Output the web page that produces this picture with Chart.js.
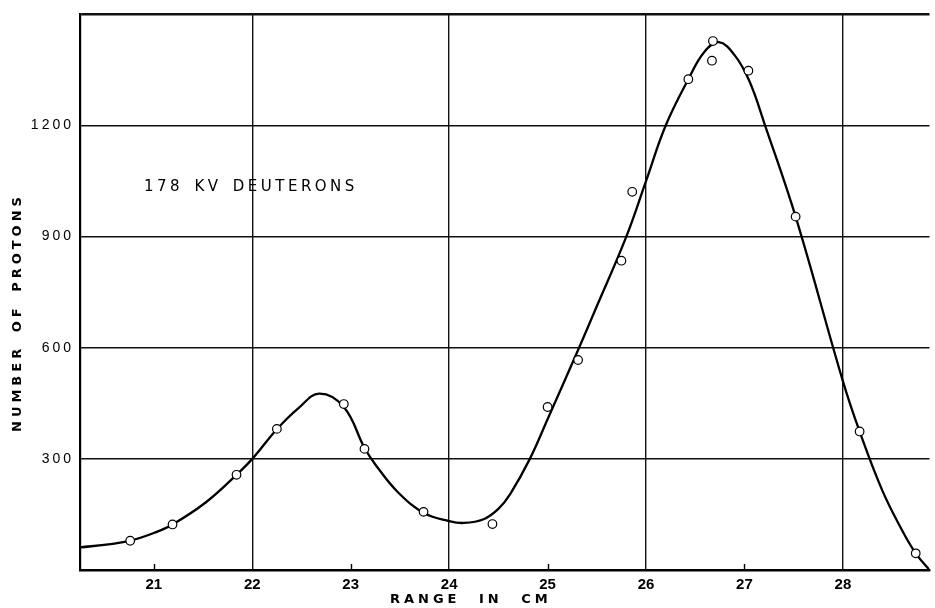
<!DOCTYPE html>
<html><head><meta charset="utf-8">
<script src="https://cdn.jsdelivr.net/npm/chart.js@4.4.1/dist/chart.umd.min.js"></script>
<style>html,body{margin:0;padding:0;background:#fff}#wrap{width:935px;height:608px;position:relative}canvas{display:block}</style>
</head><body><div id="wrap"><canvas id="c" width="935" height="608"></canvas></div>
<script>
// ---- data ----
const xTicks = [21, 22, 23, 24, 25, 26, 27, 28];
const yTicks = [0, 300, 600, 900, 1200, 1500];
const measuredRange   = [20.76, 21.19, 21.84, 22.25, 22.93, 23.14, 23.74, 24.44, 25.00, 25.31, 25.75, 25.86, 26.43, 26.67, 26.68, 27.04, 27.52, 28.17, 28.74];
const measuredProtons = [79, 123, 257, 381, 448, 327, 157, 124, 440, 567, 835, 1021, 1325, 1375, 1428, 1348, 954, 374, 45];
const curveRange   = [20.25, 20.56, 20.76, 21.00, 21.19, 21.53, 21.84, 22.00, 22.25, 22.47, 22.68, 22.93, 23.14, 23.25, 23.48, 23.75, 24.00, 24.15, 24.35, 24.50, 24.62, 24.82, 25.00, 25.32, 25.50, 25.80, 26.00, 26.20, 26.43, 26.59, 26.74, 26.90, 27.05, 27.21, 27.52, 28.00, 28.17, 28.40, 28.60, 28.74, 28.88];
const curveProtons = [61, 70, 79, 100, 123, 183, 257, 300, 380, 437, 476, 440, 330, 285, 210, 153, 132, 127, 137, 165, 205, 300, 407, 600, 712, 900, 1050, 1200, 1325, 1398, 1425, 1390, 1320, 1200, 954, 510, 374, 215, 108, 45, 0];
const annotationText = '178 KV DEUTERONS';
const xTitle = 'RANGE IN CM';
const yTitle = 'NUMBER OF PROTONS';

const decor = {
  id: 'decor',
  beforeDraw(chart) {
    const ys = chart.scales.y;
    if (ys && !ys._spacedWrap) {
      const orig = ys.drawLabels.bind(ys);
      ys.drawLabels = function (area) {
        const c = this.ctx; c.save(); c.letterSpacing = '3px'; orig(area); c.restore();
      };
      ys._spacedWrap = true;
    }
  },
  afterDraw(chart) {
    const { ctx, chartArea, scales: { x, y } } = chart;
    ctx.save();
    // small tick marks at odd values, pointing up into the plot
    ctx.strokeStyle = '#000'; ctx.lineWidth = 1.4;
    xTicks.filter(v => v % 2 === 1).forEach(v => {
      const px = Math.round(x.getPixelForValue(v)) + 0.5;
      ctx.beginPath(); ctx.moveTo(px, chartArea.bottom); ctx.lineTo(px, chartArea.bottom - 6); ctx.stroke();
    });
    ctx.fillStyle = '#000';
    ctx.textBaseline = 'middle'; ctx.textAlign = 'left';
    ctx.font = 'bold 13px "DejaVu Sans"';
    ctx.letterSpacing = '4px'; ctx.wordSpacing = '10px';
    ctx.fillText(xTitle, 390, 600);
    ctx.save();
    ctx.translate(18, 432); ctx.rotate(-Math.PI / 2);
    ctx.wordSpacing = '4px';
    ctx.fillText(yTitle, 0, 0);
    ctx.restore();
    ctx.font = '15px "DejaVu Sans"';
    ctx.letterSpacing = '3.5px'; ctx.wordSpacing = '3px';
    ctx.fillText(annotationText, x.getPixelForValue(20.9), y.getPixelForValue(1034));
    ctx.restore();
    ctx.letterSpacing = '0px'; ctx.wordSpacing = '0px';
  }
};

new Chart(document.getElementById('c'), {
  type: 'scatter',
  data: {
    datasets: [
      {
        label: 'Measured',
        data: measuredRange.map((v, i) => ({ x: v, y: measuredProtons[i] })),
        showLine: false,
        pointRadius: 4.3,
        pointBackgroundColor: '#fff',
        pointBorderColor: '#000',
        pointBorderWidth: 1.2,
        order: 0
      },
      {
        label: 'Curve',
        data: curveRange.map((v, i) => ({ x: v, y: curveProtons[i] })),
        showLine: true,
        pointRadius: 0,
        borderColor: '#000',
        borderWidth: 2.3,
        tension: 0.4,
        fill: false,
        order: 1
      }
    ]
  },
  options: {
    responsive: false,
    animation: false,
    devicePixelRatio: 1,
    layout: { padding: { top: 13, right: 0, left: 0, bottom: 0 } },
    plugins: { legend: { display: false }, tooltip: { enabled: false } },
    scales: {
      x: {
        type: 'linear', min: 20.25, max: 28.88,
        afterBuildTicks: s => { s.ticks = xTicks.map(v => ({ value: v })); },
        afterFit: s => { s.height = 38; },
        grid: {
          color: c => (c.tick && c.tick.value % 2 === 0) ? '#111' : 'rgba(0,0,0,0)',
          lineWidth: 1.4,
          drawTicks: false
        },
        border: { color: '#000', width: 2.6 },
        ticks: {
          color: '#000', padding: 6, autoSkip: false, maxRotation: 0,
          font: { family: 'Liberation Sans', weight: 'bold', size: 15 }
        }
      },
      y: {
        type: 'linear', min: 0, max: 1500,
        afterBuildTicks: s => { s.ticks = yTicks.map(v => ({ value: v })); },
        afterFit: s => { s.width = 80; },
        grid: {
          color: c => (c.tick && c.tick.value === 0) ? 'rgba(0,0,0,0)' : '#111',
          lineWidth: c => (c.tick && c.tick.value === 1500) ? 2.6 : 1.4,
          drawTicks: false
        },
        border: { color: '#000', width: 2.2 },
        ticks: {
          color: '#000', padding: 6,
          callback: v => (v === 0 || v === 1500) ? '' : String(v),
          font: { family: 'Liberation Sans', size: 14 }
        }
      }
    }
  },
  plugins: [decor]
});
</script></body></html>
